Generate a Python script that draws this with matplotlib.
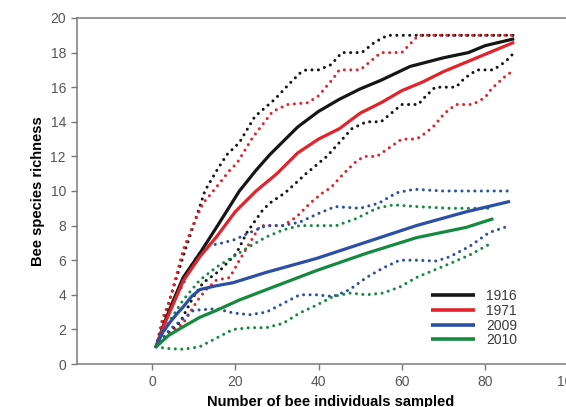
import numpy as np
import matplotlib.pyplot as plt

plt.rcParams['font.family'] = ['Liberation Sans', 'DejaVu Sans']

# rarefaction curves: mean (solid) and 95% bounds (dotted), x = individuals sampled
x_1916 = [1, 3, 5, 7.5, 11.5, 15.5, 21, 25, 28.3, 35, 40, 45, 50, 55, 62, 70, 76, 80, 87]
mean_1916 = [1, 2.4, 3.6, 5.0, 6.4, 7.9, 10.0, 11.2, 12.1, 13.7, 14.6, 15.3, 15.9, 16.4, 17.2, 17.7, 18.0, 18.4, 18.8]

x_1916_hi = [1, 3, 5, 8, 11.5, 12.7, 15.6, 18, 21, 24.7, 29.5, 33, 35.5, 37, 40, 43, 45.6, 50.4, 53.5, 56.6, 87]
hi_1916 = [1, 2.7, 4.3, 6.6, 9.1, 10.0, 11.2, 12.1, 12.8, 14.3, 15.3, 16.2, 16.8, 17.0, 17.0, 17.3, 18.0, 18.0, 18.6, 19.0, 19.0]

x_1916_lo = [1, 4, 6.7, 10, 12.3, 16.3, 20.3, 22.8, 26.6, 28.3, 32, 37, 42, 45, 48, 51.5, 55, 57, 60, 64, 65, 68, 73, 75, 78, 82, 85, 87]
lo_1916 = [1, 1.8, 2.4, 3.9, 4.7, 5.4, 6.4, 7.6, 8.9, 9.3, 9.9, 11.0, 12.0, 12.8, 13.6, 14.0, 14.0, 14.4, 15.0, 15.0, 15.3, 16.0, 16.0, 16.5, 17.0, 17.0, 17.5, 18.0]

x_1971 = [1, 3, 5, 7.5, 11.5, 15.5, 20, 25, 30, 35, 40, 45, 50, 55, 60, 65, 70, 75, 80, 87]
mean_1971 = [1, 2.3, 3.4, 4.8, 6.2, 7.35, 8.8, 10.0, 11.0, 12.2, 13.0, 13.6, 14.5, 15.1, 15.8, 16.3, 16.9, 17.4, 17.9, 18.6]

x_1971_hi = [1, 2.5, 4.3, 7.5, 10, 12.3, 14.4, 18.7, 20.4, 24.2, 29, 32.6, 37.4, 40, 43.5, 45, 50, 53, 55, 60, 62, 64, 87]
hi_1971 = [1, 2.6, 3.7, 6.6, 8.1, 9.3, 9.9, 11.2, 11.6, 13.1, 14.6, 15.0, 15.1, 15.5, 16.5, 17.0, 17.0, 17.6, 18.0, 18.0, 18.5, 19.0, 19.0]

x_1971_lo = [1, 4, 7.5, 11, 13, 15.5, 18.7, 21, 23.5, 26, 31.5, 34.7, 38, 41, 43, 46, 49, 51, 54, 57.6, 60, 63, 64.3, 67.5, 70.3, 73, 77, 80, 81.5, 84.7, 87]
lo_1971 = [1, 1.7, 2.35, 3.7, 4.3, 4.85, 5.0, 6.0, 7.0, 8.0, 8.0, 8.5, 9.3, 9.9, 10.2, 11.0, 11.7, 12.0, 12.0, 12.6, 13.0, 13.0, 13.1, 13.7, 14.5, 15.0, 15.0, 15.4, 15.9, 16.6, 17.0]

x_2009 = [1, 2.5, 4.3, 6, 7.5, 9.5, 11.5, 15, 19.5, 27.5, 39.5, 51.5, 63.5, 75.5, 86]
mean_2009 = [1, 1.8, 2.4, 2.9, 3.3, 3.9, 4.3, 4.5, 4.7, 5.3, 6.1, 7.05, 8.0, 8.8, 9.4]

x_2009_hi = [1, 3, 5, 7.5, 9, 11, 13, 17, 20, 23.5, 27.5, 31.5, 35.5, 40, 44, 50, 54.5, 58.8, 63, 70, 86]
hi_2009 = [1, 2.5, 3.6, 4.6, 5.5, 6.3, 6.8, 7.0, 7.2, 7.6, 8.0, 8.0, 8.2, 8.7, 9.1, 9.0, 9.3, 9.9, 10.1, 10.0, 10.0]

x_2009_lo = [1, 4.3, 10, 15.5, 19.5, 23.5, 27.5, 31.5, 35.5, 39.5, 43.5, 47.5, 51.5, 55.5, 59.5, 63.5, 68.3, 71.5, 76.3, 81, 84.7]
lo_2009 = [1, 2.0, 3.1, 3.2, 2.95, 2.85, 3.0, 3.5, 4.0, 4.0, 3.9, 4.3, 5.0, 5.55, 6.0, 6.0, 5.95, 6.2, 6.8, 7.6, 7.9]

x_2010 = [1, 4, 7.5, 11.5, 15.5, 21, 27.5, 39.5, 51.5, 63.5, 75.5, 82]
mean_2010 = [1, 1.65, 2.15, 2.7, 3.1, 3.7, 4.3, 5.4, 6.4, 7.3, 7.9, 8.4]

x_2010_hi = [1, 4, 7.5, 11.5, 15.5, 19.5, 23.5, 27.5, 31.5, 35.5, 39.5, 44.3, 49, 54, 58, 63.5, 71.5, 82]
hi_2010 = [1, 2.4, 3.7, 4.85, 5.6, 6.2, 6.8, 7.35, 7.75, 8.0, 8.0, 8.0, 8.4, 9.0, 9.2, 9.1, 9.0, 9.0]

x_2010_lo = [1, 3.5, 7.5, 11.5, 15.5, 19.5, 23.5, 27.5, 31.5, 35.5, 39.5, 43.5, 47.5, 51.5, 55.5, 59.5, 63.5, 67.5, 71.5, 76.3, 81.6]
lo_2010 = [1, 0.9, 0.85, 1.0, 1.5, 2.0, 2.1, 2.1, 2.35, 2.95, 3.4, 3.9, 4.1, 4.0, 4.1, 4.45, 5.0, 5.4, 5.8, 6.3, 7.0]

years = ['1916', '1971', '2009', '2010']
colors = ['#161616', '#e3232b', '#2b4ea6', '#15893f']

series = [
    (x_1916, mean_1916, x_1916_hi, hi_1916, x_1916_lo, lo_1916),
    (x_1971, mean_1971, x_1971_hi, hi_1971, x_1971_lo, lo_1971),
    (x_2009, mean_2009, x_2009_hi, hi_2009, x_2009_lo, lo_2009),
    (x_2010, mean_2010, x_2010_hi, hi_2010, x_2010_lo, lo_2010),
]

fig = plt.figure(figsize=(5.66, 4.07), dpi=100)
ax = fig.add_axes([77 / 566, 43 / 407, 508 / 566, 346 / 407])

dot = (0, (0.01, 2.1))
for (xm, ym, xh, yh, xl, yl), lab, c in zip(series, years, colors):
    ax.plot(xh, yh, color=c, lw=2.2, ls=dot, dash_capstyle='round')
    ax.plot(xl, yl, color=c, lw=2.2, ls=dot, dash_capstyle='round')
for (xm, ym, *_), lab, c in zip(series, years, colors):
    ax.plot(xm, ym, color=c, lw=2.3, label=lab, solid_capstyle='butt',
            solid_joinstyle='round')

ax.set_xlim(-18, 104)
ax.set_ylim(0, 20)
ax.set_xticks(np.arange(0, 101, 20))
ax.set_yticks(np.arange(0, 21, 2))

spine_c = '#7a7a7a'
for s in ['left', 'bottom', 'top']:
    ax.spines[s].set_color(spine_c)
    ax.spines[s].set_linewidth(1.1)
ax.spines['right'].set_visible(False)
ax.tick_params(direction='out', length=4, width=1.0, color=spine_c,
               labelcolor='#555555', labelsize=10, pad=4)

ax.set_xlabel('Number of bee individuals sampled', fontsize=10.5, fontweight='bold', labelpad=4)
ax.set_ylabel('Bee species richness', fontsize=10.5, fontweight='bold', labelpad=4)

leg = ax.legend(loc='lower right', bbox_to_anchor=(527 / 566, 1 - 357 / 407),
                bbox_transform=fig.transFigure, frameon=False, fontsize=10,
                handlelength=3.2, handletextpad=0.8, labelspacing=0.05,
                borderpad=0.2)
for t in leg.get_texts():
    t.set_color('#3a3a3a')
for h in leg.get_lines():
    h.set_linewidth(2.6)

fig.savefig('out.png', dpi=100)
